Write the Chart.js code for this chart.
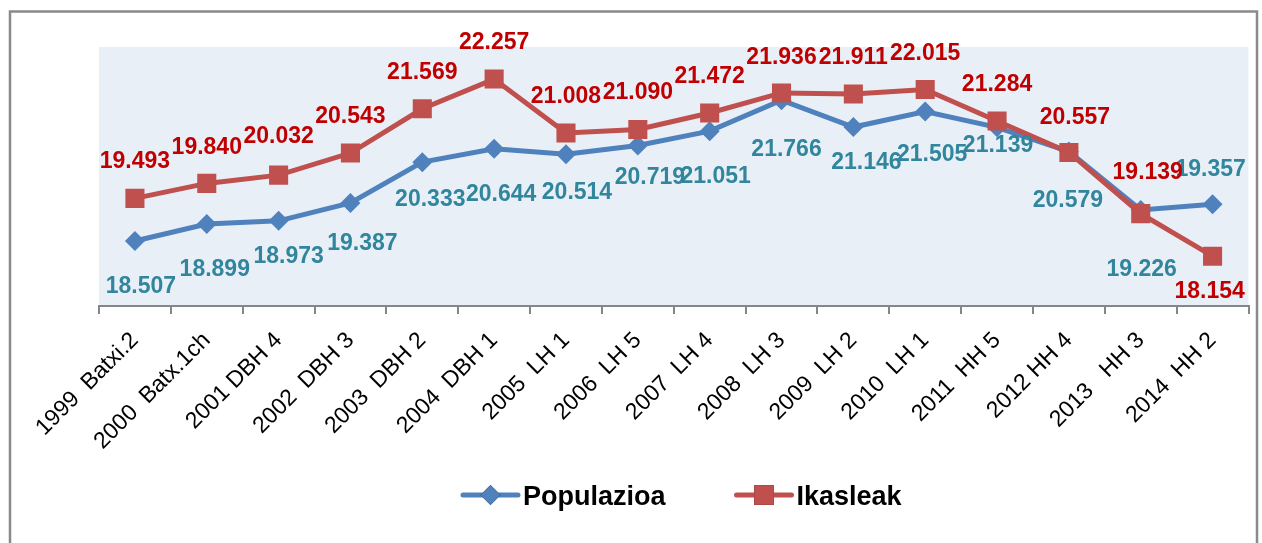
<!DOCTYPE html>
<html>
<head>
<meta charset="utf-8">
<script src="https://cdn.jsdelivr.net/npm/chart.js@4.4.1/dist/chart.umd.min.js"></script>
<style>
  html, body { margin: 0; padding: 0; background: #fff; }
  canvas { display: block; }
</style>
</head>
<body>
<canvas id="chart" width="1262" height="543"></canvas>
<script>
"use strict";

// urteak / mailak
const categories = [
    "1999  Batxi.2", "2000  Batx.1ch", "2001 DBH 4", "2002  DBH 3",
    "2003  DBH 2", "2004  DBH 1", "2005  LH 1", "2006  LH 5",
    "2007  LH 4", "2008  LH 3", "2009  LH 2", "2010  LH 1",
    "2011  HH 5", "2012 HH 4", "2013   HH 3", "2014  HH 2"
];

const populazioa = [
    18.507, 18.899, 18.973, 19.387, 20.333, 20.644, 20.514, 20.719,
    21.051, 21.766, 21.146, 21.505, 21.139, 20.579, 19.226, 19.357
];

const ikasleak = [
    19.493, 19.840, 20.032, 20.543, 21.569, 22.257, 21.008, 21.090,
    21.472, 21.936, 21.911, 22.015, 21.284, 20.557, 19.139, 18.154
];

const BLUE = "#4F81BD";
const RED = "#C0504D";

// label placement relative to the point (dx, dy), the way they were dragged in the original
const popLabelShift = [
    [6, 46], [8, 46], [10, 36], [12, 41], [8, 38], [7, 46], [11, 38], [12, 32],
    [6, 46], [5, 49], [13, 36], [7, 43], [1, 18], [-1, 49], [1, 60], [-2, -35]
];
const ikaLabelShift = [
    [0, -37], [0, -36], [0, -38], [0, -36], [0, -36], [0, -36], [0, -36], [0, -37],
    [0, -36], [0, -35], [0, -36], [0, -36], [0, -36], [6, -35], [7, -41], [-3, 35]
];

const backgroundAndFrame = {
    id: "backgroundAndFrame",
    beforeDraw: function(chart) {
        const ctx = chart.ctx;
        const a = chart.chartArea;
        ctx.save();
        ctx.fillStyle = "#E9EFF7";
        ctx.fillRect(a.left, a.top, a.right - a.left, a.bottom - a.top);
        ctx.strokeStyle = "#8A8A8A";
        ctx.lineWidth = 2.5;
        ctx.strokeRect(10, 11.5, 1247, 600);
        ctx.restore();
    }
};

const valueLabels = {
    id: "valueLabels",
    afterDatasetsDraw: function(chart, args, opts) {
        const ctx = chart.ctx;
        ctx.save();
        ctx.font = "bold 23px 'Liberation Sans', Arial, sans-serif";
        ctx.textAlign = "center";
        ctx.textBaseline = "middle";
        opts.series.forEach(function(s) {
            const meta = chart.getDatasetMeta(s.index);
            const values = chart.data.datasets[s.index].data;
            ctx.fillStyle = s.color;
            meta.data.forEach(function(pt, i) {
                const sh = s.shift[i];
                ctx.fillText(values[i].toFixed(3), pt.x + sh[0], pt.y + sh[1]);
            });
        });
        ctx.restore();
    }
};

const lineLegend = {
    id: "lineLegend",
    afterDraw: function(chart, args, opts) {
        const ctx = chart.ctx;
        ctx.save();
        ctx.font = "bold 27px 'Liberation Sans', Arial, sans-serif";
        ctx.textBaseline = "alphabetic";
        let x = opts.left;
        const y = opts.y;
        chart.data.datasets.forEach(function(ds) {
            ctx.strokeStyle = ds.borderColor;
            ctx.lineWidth = 5;
            ctx.lineCap = "round";
            ctx.beginPath();
            ctx.moveTo(x, y);
            ctx.lineTo(x + 55, y);
            ctx.stroke();
            Chart.helpers.drawPoint(ctx, {
                pointStyle: ds.pointStyle,
                radius: ds.pointStyle === "rect" ? 14 : 10,
                borderWidth: 0
            }, x + 27.5, y);
            ctx.fillStyle = ds.backgroundColor;
            ctx.fill();
            ctx.fillStyle = "#000";
            ctx.fillText(ds.label, x + 60, y + 10);
            x += 60 + ctx.measureText(ds.label).width + opts.gap;
        });
        ctx.restore();
    }
};

new Chart(document.getElementById("chart"), {
    type: "line",
    data: {
        labels: categories,
        datasets: [
            {
                label: "Populazioa",
                data: populazioa,
                borderColor: BLUE,
                backgroundColor: BLUE,
                borderWidth: 5,
                pointStyle: "rectRot",
                pointRadius: 10,
                pointBorderWidth: 0,
                tension: 0,
                order: 2
            },
            {
                label: "Ikasleak",
                data: ikasleak,
                borderColor: RED,
                backgroundColor: RED,
                borderWidth: 5,
                pointStyle: "rect",
                pointRadius: 13.5,
                pointBorderWidth: 0,
                tension: 0,
                order: 1
            }
        ]
    },
    options: {
        responsive: false,
        animation: false,
        layout: {
            padding: { left: 99, right: 9, top: 47, bottom: 0 }
        },
        plugins: {
            legend: { display: false },
            tooltip: { enabled: false },
            valueLabels: {
                series: [
                    { index: 0, color: "#31859C", shift: popLabelShift },
                    { index: 1, color: "#C00000", shift: ikaLabelShift }
                ]
            },
            lineLegend: { left: 463, y: 495, gap: 71 }
        },
        scales: {
            x: {
                offset: true,
                afterFit: function(scale) { scale.height = 237; },
                border: { display: true, color: "#868686", width: 2 },
                grid: {
                    offset: true,
                    drawOnChartArea: false,
                    drawTicks: true,
                    tickLength: 8,
                    color: "#868686",
                    lineWidth: 2
                },
                ticks: {
                    autoSkip: false,
                    minRotation: 45,
                    maxRotation: 45,
                    color: "#000",
                    padding: 13,
                    font: { family: "'Liberation Sans', Arial, sans-serif", size: 23 }
                }
            },
            y: {
                display: false,
                min: 17,
                max: 23
            }
        }
    },
    plugins: [backgroundAndFrame, valueLabels, lineLegend]
});
</script>
</body>
</html>
